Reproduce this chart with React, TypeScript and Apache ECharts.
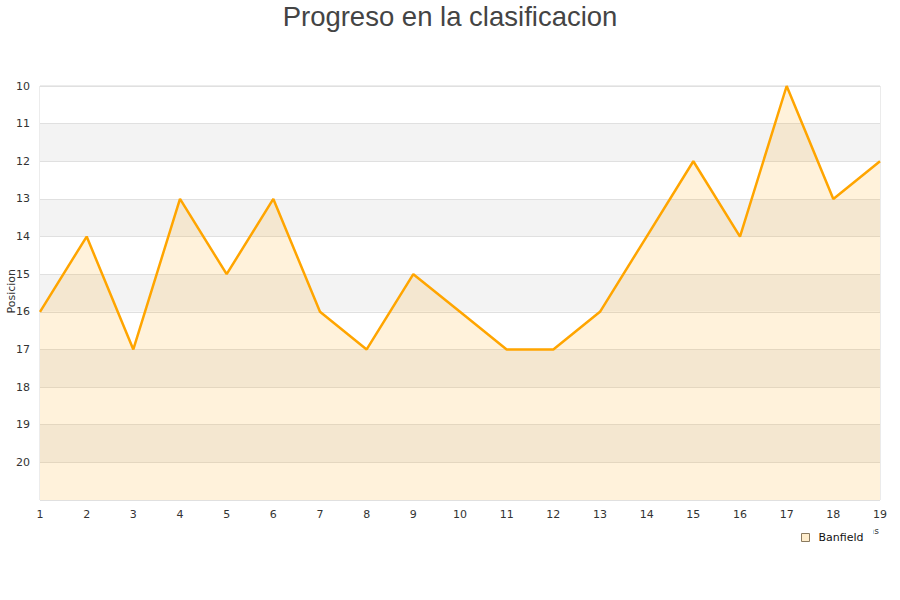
import React, { useEffect, useRef } from "react";
import * as echarts from "echarts";

const jornadas = ["1","2","3","4","5","6","7","8","9","10","11","12","13","14","15","16","17","18","19"];
const posiciones = [16, 14, 17, 13, 15, 13, 16, 17, 15, 16, 17, 17, 16, 14, 12, 14, 10, 13, 12];
const teamName = "Banfield";
const titleText = "Progreso en la clasificacion";

export default function App() {
  const ref = useRef<HTMLDivElement>(null);
  useEffect(() => {
    if (!ref.current) return;
    const chart = echarts.init(ref.current, undefined, { renderer: "svg" });
    chart.setOption({
      animation: false,
      title: {
        text: titleText,
        left: "center",
        top: -3,
        textStyle: { fontFamily: "Liberation Sans", fontSize: 27.5, fontWeight: "normal", color: "#444" },
      },
      graphic: [
        {
          type: "text",
          right: 21,
          top: 526,
          style: { text: "Jornadas", fontFamily: "DejaVu Sans", fontSize: 9, fill: "#333" },
        },
        {
          type: "text",
          left: 6,
          top: 269,
          rotation: Math.PI / 2,
          style: { text: "Posicion", fontFamily: "DejaVu Sans", fontSize: 11, fill: "#333" },
        },
      ],
      legend: {
        data: [teamName],
        left: 795,
        top: 527,
        padding: [5, 10, 5, 6],
        backgroundColor: "#fff",
        icon: "rect",
        itemWidth: 8,
        itemHeight: 8,
        itemStyle: { color: "rgba(255,165,0,0.2)", borderColor: "#8a7a60", borderWidth: 1 },
        textStyle: { fontFamily: "DejaVu Sans", fontSize: 11, color: "#111", padding: [0, 0, 0, 4] },
      },
      grid: {
        left: 40,
        right: 20,
        top: 86,
        bottom: 100,
        containLabel: false,
        outerBoundsMode: "none",
        show: true,
        borderColor: "#d8d8d8",
        borderWidth: 1,
      },
      xAxis: {
        type: "category",
        data: jornadas,
        boundaryGap: false,
        axisLine: { show: false },
        axisTick: { show: false },
        axisLabel: { fontFamily: "DejaVu Sans", fontSize: 11, color: "#333", margin: 9 },
        splitLine: { show: false },
      },
      yAxis: {
        type: "value",
        inverse: true,
        min: 10,
        max: 21,
        interval: 1,
        axisLine: { show: false },
        axisTick: { show: false },
        axisLabel: {
          fontFamily: "DejaVu Sans",
          fontSize: 11,
          color: "#333",
          margin: 10,
          formatter: (v: number) => (v === 21 ? "" : String(v)),
        },
        splitLine: { show: true, lineStyle: { color: "#e0e0e0", width: 1 } },
        splitArea: { show: true, areaStyle: { color: ["#ffffff", "#f3f3f3"] } },
      },
      series: [
        {
          name: teamName,
          type: "line",
          data: posiciones,
          showSymbol: false,
          symbol: "none",
          lineStyle: { color: "#ffa500", width: 2.5 },
          itemStyle: { color: "rgba(255,165,0,0.2)" },
          areaStyle: { color: "rgba(255,165,0,0.2)", origin: "end" },
        },
      ],
    });
    return () => chart.dispose();
  }, []);
  return <div ref={ref} style={{ width: 900, height: 600, position: "absolute", left: 0, top: 0 }} />;
}
